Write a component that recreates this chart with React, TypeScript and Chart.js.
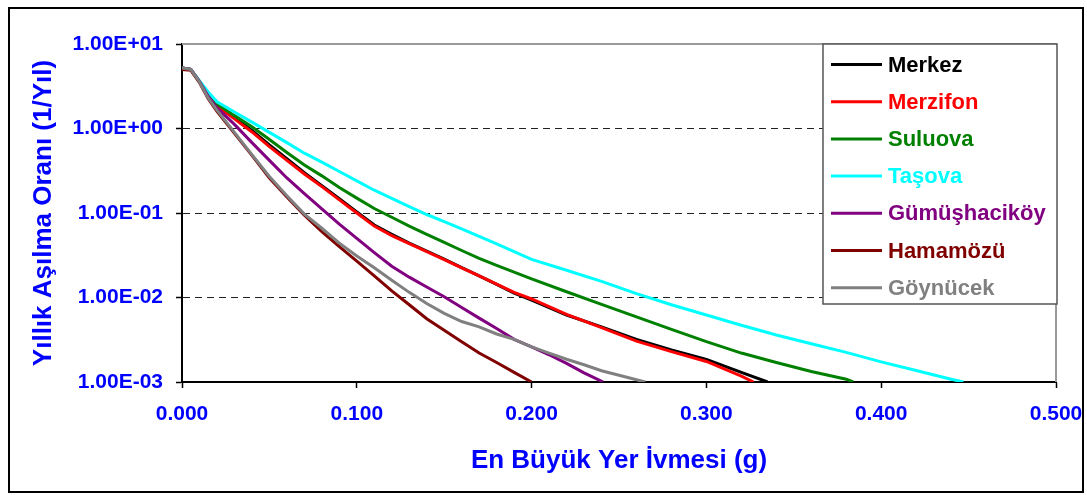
import React, { useEffect, useRef } from 'react';
import { Chart, registerables } from 'chart.js';

Chart.register(...registerables);

// ---- Data ----
const SERIES_NAMES = ['Merkez', 'Merzifon', 'Suluova', 'Taşova', 'Gümüşhaciköy', 'Hamamözü', 'Göynücek'];
const SERIES_COLORS = ['#000000', '#FF0000', '#008000', '#00FFFF', '#800080', '#800000', '#808080'];

const merkezPga = [0, 0.005, 0.01, 0.015, 0.02, 0.03, 0.04, 0.05, 0.06, 0.07, 0.08, 0.09, 0.10, 0.11, 0.12, 0.13, 0.14, 0.15, 0.16, 0.17, 0.18, 0.19, 0.20, 0.22, 0.24, 0.26, 0.28, 0.30, 0.32, 0.335];
const merkezRate = [5.2, 5.0, 3.6, 2.55, 1.88, 1.34, 0.95, 0.64, 0.44, 0.3, 0.21, 0.148, 0.103, 0.072, 0.056, 0.044, 0.0355, 0.0285, 0.0226, 0.018, 0.0143, 0.0113, 0.0093, 0.0062, 0.0045, 0.0032, 0.0024, 0.00185, 0.0013, 0.001];

const merzifonPga = [0, 0.005, 0.01, 0.015, 0.02, 0.03, 0.04, 0.05, 0.06, 0.07, 0.08, 0.09, 0.10, 0.11, 0.12, 0.13, 0.14, 0.15, 0.16, 0.17, 0.18, 0.19, 0.20, 0.22, 0.24, 0.26, 0.28, 0.30, 0.32, 0.327];
const merzifonRate = [5.2, 5.0, 3.6, 2.5, 1.85, 1.3, 0.91, 0.61, 0.42, 0.29, 0.205, 0.143, 0.1, 0.07, 0.054, 0.0435, 0.035, 0.028, 0.0224, 0.018, 0.0144, 0.0115, 0.0096, 0.0063, 0.0044, 0.00305, 0.00229, 0.00175, 0.00117, 0.001];

const suluovaPga = [0, 0.005, 0.01, 0.015, 0.02, 0.03, 0.04, 0.05, 0.06, 0.07, 0.08, 0.09, 0.10, 0.11, 0.12, 0.13, 0.14, 0.15, 0.16, 0.17, 0.18, 0.19, 0.20, 0.22, 0.24, 0.26, 0.28, 0.30, 0.32, 0.34, 0.36, 0.38, 0.384];
const suluovaRate = [5.2, 5.0, 3.6, 2.6, 1.95, 1.42, 1.05, 0.74, 0.52, 0.37, 0.275, 0.2, 0.15, 0.113, 0.089, 0.07, 0.056, 0.045, 0.036, 0.029, 0.024, 0.02, 0.0166, 0.0117, 0.0083, 0.0059, 0.0042, 0.003, 0.0022, 0.0017, 0.00133, 0.00108, 0.001];

const tasovaPga = [0, 0.005, 0.01, 0.015, 0.02, 0.03, 0.04, 0.05, 0.06, 0.07, 0.08, 0.09, 0.10, 0.11, 0.12, 0.13, 0.14, 0.15, 0.16, 0.17, 0.18, 0.19, 0.20, 0.22, 0.24, 0.26, 0.28, 0.30, 0.32, 0.34, 0.36, 0.38, 0.40, 0.42, 0.44, 0.447];
const tasovaRate = [5.2, 5.0, 3.65, 2.7, 2.07, 1.57, 1.19, 0.9, 0.68, 0.51, 0.4, 0.31, 0.24, 0.186, 0.149, 0.119, 0.096, 0.079, 0.065, 0.053, 0.043, 0.035, 0.0282, 0.021, 0.0155, 0.0111, 0.0082, 0.0062, 0.0047, 0.0036, 0.00284, 0.00224, 0.00173, 0.00137, 0.00108, 0.001];

const gumushacikoyPga = [0, 0.005, 0.01, 0.015, 0.02, 0.03, 0.04, 0.05, 0.06, 0.07, 0.08, 0.09, 0.10, 0.11, 0.12, 0.13, 0.14, 0.15, 0.16, 0.17, 0.18, 0.19, 0.20, 0.21, 0.22, 0.23, 0.241];
const gumushacikoyRate = [5.2, 5.0, 3.6, 2.4, 1.75, 1.12, 0.68, 0.42, 0.26, 0.17, 0.112, 0.074, 0.05, 0.034, 0.0234, 0.0174, 0.0133, 0.0102, 0.0076, 0.0057, 0.0043, 0.0032, 0.0026, 0.0021, 0.00166, 0.00128, 0.001];

const hamamozuPga = [0, 0.005, 0.01, 0.015, 0.02, 0.03, 0.04, 0.05, 0.06, 0.07, 0.08, 0.09, 0.10, 0.11, 0.12, 0.13, 0.14, 0.15, 0.16, 0.17, 0.18, 0.19, 0.20];
const hamamozuRate = [5.0, 4.9, 3.5, 2.25, 1.6, 0.88, 0.48, 0.26, 0.155, 0.094, 0.06, 0.04, 0.027, 0.018, 0.012, 0.0082, 0.0056, 0.0041, 0.003, 0.0022, 0.0017, 0.0013, 0.001];

const goynucekPga = [0, 0.005, 0.01, 0.015, 0.02, 0.03, 0.04, 0.05, 0.06, 0.07, 0.08, 0.09, 0.10, 0.11, 0.12, 0.13, 0.14, 0.15, 0.16, 0.17, 0.18, 0.19, 0.20, 0.21, 0.22, 0.23, 0.24, 0.25, 0.265];
const goynucekRate = [5.2, 5.0, 3.55, 2.3, 1.65, 0.9, 0.49, 0.27, 0.16, 0.097, 0.066, 0.044, 0.031, 0.0225, 0.016, 0.0115, 0.0085, 0.0065, 0.0052, 0.0045, 0.0037, 0.0032, 0.0026, 0.0022, 0.00186, 0.0016, 0.00136, 0.0012, 0.001];

const SERIES_PGA = [merkezPga, merzifonPga, suluovaPga, tasovaPga, gumushacikoyPga, hamamozuPga, goynucekPga];
const SERIES_RATE = [merkezRate, merzifonRate, suluovaRate, tasovaRate, gumushacikoyRate, hamamozuRate, goynucekRate];

const X_TICKS = [0, 0.1, 0.2, 0.3, 0.4, 0.5];
const Y_TICKS = [0.001, 0.01, 0.1, 1, 10];
const Y_TICK_LABELS = ['1.00E-03', '1.00E-02', '1.00E-01', '1.00E+00', '1.00E+01'];

const X_TITLE = 'En Büyük Yer İvmesi (g)';
const Y_TITLE = 'Yıllık Aşılma Oranı (1/Yıl)';

const FONT = "'Liberation Sans', Arial, sans-serif";
const BLUE = '#0000FF';

const decorPlugin = {
  id: 'decor',
  beforeDraw(chart: any) {
    const { ctx, width, height } = chart;
    ctx.save();
    ctx.fillStyle = '#ffffff';
    ctx.fillRect(0, 0, width, height);
    ctx.restore();
  },
  afterDraw(chart: any) {
    const { ctx, chartArea: a } = chart;
    ctx.save();
    // plot area top/right border (gray)
    ctx.strokeStyle = '#9a9a9a';
    ctx.lineWidth = 2;
    ctx.beginPath();
    ctx.moveTo(a.left, a.top);
    ctx.lineTo(a.right, a.top);
    ctx.lineTo(a.right, a.bottom);
    ctx.stroke();

    // outer frame
    ctx.strokeStyle = '#000000';
    ctx.lineWidth = 2;
    ctx.strokeRect(9, 8, chart.width - 13, chart.height - 11);

    // legend box
    const lx = a.right - 233;
    const ly = a.top;
    const lw = 234;
    const lh = 260;
    ctx.fillStyle = '#ffffff';
    ctx.fillRect(lx, ly, lw, lh);
    ctx.strokeStyle = '#555555';
    ctx.lineWidth = 1.5;
    ctx.strokeRect(lx, ly, lw, lh);

    const ds = chart.data.datasets;
    ctx.font = `bold 22px ${FONT}`;
    ctx.textBaseline = 'middle';
    ctx.textAlign = 'left';
    for (let i = 0; i < ds.length; i++) {
      const y = ly + 20.5 + i * 37.2;
      ctx.strokeStyle = ds[i].borderColor;
      ctx.lineWidth = 3;
      ctx.beginPath();
      ctx.moveTo(lx + 8, y);
      ctx.lineTo(lx + 59, y);
      ctx.stroke();
      ctx.fillStyle = ds[i].borderColor;
      ctx.fillText(ds[i].label, lx + 65, y + 1);
    }
    ctx.restore();
  },
};

export default function App() {
  const canvasRef = useRef<HTMLCanvasElement | null>(null);

  useEffect(() => {
    const canvas = canvasRef.current;
    if (!canvas) return;

    const datasets = SERIES_NAMES.map((name, i) => ({
      label: name,
      data: SERIES_PGA[i].map((x, j) => ({ x, y: SERIES_RATE[i][j] })),
      borderColor: SERIES_COLORS[i],
      backgroundColor: SERIES_COLORS[i],
      borderWidth: 3,
      pointRadius: 0,
      tension: 0,
      fill: false,
      order: SERIES_NAMES.length - i,
    }));

    const chart = new Chart(canvas, {
      type: 'line',
      data: { datasets },
      options: {
        animation: false,
        responsive: false,
        devicePixelRatio: 1,
        layout: { padding: { top: 44, right: 31, bottom: 0, left: 0 } },
        plugins: {
          legend: { display: false },
          tooltip: { enabled: false },
        },
        scales: {
          x: {
            type: 'linear',
            min: 0,
            max: 0.5,
            afterBuildTicks: (scale: any) => {
              scale.ticks = X_TICKS.map((v) => ({ value: v }));
            },
            afterFit: (scale: any) => {
              scale.height = 113;
              scale.paddingLeft = 0;
              scale.paddingRight = 0;
            },
            ticks: {
              color: BLUE,
              font: { family: FONT, size: 21, weight: 'bold' },
              padding: 14,
              maxRotation: 0,
              callback: (v: any) => Number(v).toFixed(3),
            },
            grid: {
              drawOnChartArea: false,
              drawTicks: true,
              tickLength: 6,
              tickColor: '#000000',
              tickWidth: 1.5,
            },
            border: { color: '#000000', width: 2 },
            title: {
              display: true,
              text: X_TITLE,
              color: BLUE,
              font: { family: FONT, size: 26, weight: 'bold' },
              padding: { top: 0, bottom: 19 },
            },
          },
          y: {
            type: 'logarithmic',
            min: 0.001,
            max: 10,
            afterBuildTicks: (scale: any) => {
              scale.ticks = Y_TICKS.map((v) => ({ value: v }));
            },
            afterFit: (scale: any) => {
              scale.width = 182;
            },
            ticks: {
              color: BLUE,
              font: { family: FONT, size: 21, weight: 'bold' },
              padding: 13,
              callback: (v: any) => {
                const idx = Y_TICKS.findIndex((t) => Math.abs(Math.log10(t) - Math.log10(Number(v))) < 1e-6);
                return idx >= 0 ? Y_TICK_LABELS[idx] : '';
              },
            },
            grid: {
              drawTicks: true,
              tickLength: 6,
              lineWidth: 1,
              color: (ctx: any) => {
                const v = ctx.tick ? ctx.tick.value : 0;
                if (Math.abs(v - 10) < 1e-9 || Math.abs(v - 0.001) < 1e-12) return 'rgba(0,0,0,0)';
                return '#222222';
              },
              tickColor: '#000000',
              tickWidth: 1.5,
              tickBorderDash: [],
            },
            border: { color: '#000000', width: 2, dash: [7, 5] },
            title: {
              display: true,
              text: Y_TITLE,
              color: BLUE,
              font: { family: FONT, size: 26, weight: 'bold' },
              padding: { top: 28, bottom: 0 },
            },
          },
        },
      },
      plugins: [decorPlugin],
    } as any);

    return () => chart.destroy();
  }, []);

  return (
    <div style={{ position: 'absolute', left: 0, top: 0, width: 1087, height: 495, background: '#fff' }}>
      <canvas ref={canvasRef} width={1087} height={495} style={{ display: 'block', width: 1087, height: 495 }} />
    </div>
  );
}
